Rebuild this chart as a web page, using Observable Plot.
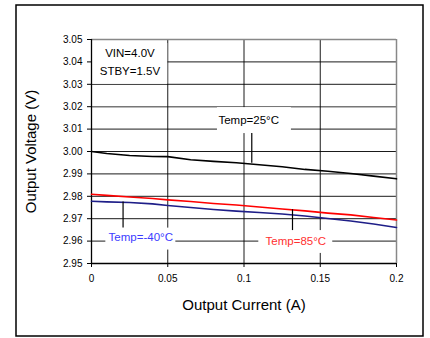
<!DOCTYPE html>
<html>
<head>
<meta charset="utf-8">
<script src="https://cdn.jsdelivr.net/npm/d3@7"></script>
<script src="https://cdn.jsdelivr.net/npm/@observablehq/plot@0.6"></script>
<style>
  body { margin: 0; background: #fff; }
  svg { display: block; }
</style>
</head>
<body>
<div id="chart"></div>
<script>
// Output current (A)
const current = [0, 0.01, 0.025, 0.04, 0.05, 0.065, 0.08, 0.095, 0.11, 0.125, 0.14, 0.155, 0.17, 0.185, 0.2];
// Output voltage (V) per temperature
const temp25 = [3.0000, 2.9991, 2.9982, 2.9978, 2.9977, 2.9963, 2.9956, 2.9950, 2.9941, 2.9932, 2.9920, 2.9912, 2.9902, 2.9890, 2.9878];
const temp85 = [2.9809, 2.9804, 2.9797, 2.9790, 2.9784, 2.9777, 2.9768, 2.9761, 2.9752, 2.9743, 2.9735, 2.9725, 2.9717, 2.9705, 2.9694];
const tempM40 = [2.9778, 2.9775, 2.9772, 2.9766, 2.9759, 2.9750, 2.9741, 2.9734, 2.9728, 2.9721, 2.9712, 2.9701, 2.9690, 2.9676, 2.9661];

const yTicks = [2.95, 2.96, 2.97, 2.98, 2.99, 3.00, 3.01, 3.02, 3.03, 3.04, 3.05];
const yTickLabels = ["2.95", "2.96", "2.97", "2.98", "2.99", "3.00", "3.01", "3.02", "3.03", "3.04", "3.05"];
const xTicks = [0, 0.05, 0.1, 0.15, 0.2];
const xTickLabels = ["0", "0.05", "0.1", "0.15", "0.2"];

const xTitle = "Output Current (A)";
const yTitle = "Output Voltage (V)";
const conditionLines = ["VIN=4.0V", "STBY=1.5V"];

// annotation labels (centre in data units), box extents, leader line
const labels = [
  {text: "Temp=25°C", x: 0.1031, y: 3.0138, color: "#000000", bx1: 0.0826, bx2: 0.1311, by1: 3.0080, by2: 3.0196, lx: 0.1051, ly1: 3.0080, ly2: 2.9947},
  {text: "Temp=-40°C", x: 0.0323, y: 2.9615, color: "#3b3bff", bx1: 0.0094, bx2: 0.0553, by1: 2.9560, by2: 2.9658, lx: 0.0207, ly1: 2.9658, ly2: 2.9774},
  {text: "Temp=85°C", x: 0.1340, y: 2.9600, color: "#ff3030", bx1: 0.1097, bx2: 0.1582, by1: 2.9545, by2: 2.9647, lx: 0.1318, ly1: 2.9647, ly2: 2.9740}
];
const condBox = {bx1: 0, bx2: 0.05, by1: 3.0300, by2: 3.0482, x: 0.0252, y1: 3.0439, y2: 3.0359};

const series = [
  {name: "25", values: temp25, color: "#000000"},
  {name: "85", values: temp85, color: "#ff0000"},
  {name: "-40", values: tempM40, color: "#1e1e88"}
];
const rows = series.flatMap(s => current.map((c, i) => ({series: s.name, x: c, y: s.values[i], color: s.color})));

const font = "'Liberation Sans', Arial, sans-serif";

const chart = Plot.plot({
  width: 430,
  height: 338,
  marginLeft: 91,
  marginRight: 34,
  marginTop: 39,
  marginBottom: 75,
  style: {fontFamily: font, background: "#fff"},
  x: {domain: [0, 0.2]},
  y: {domain: [2.95, 3.05]},
  marks: [
    // grid
    Plot.ruleY(yTicks.filter(v => v !== 3.02 && v !== 3.05 && v !== 2.95), {y: d => d, stroke: "#000", strokeWidth: 0.9}),
    Plot.ruleY([3.02], {stroke: "#777", strokeWidth: 1.6}),
    Plot.ruleX(xTicks.filter(v => v !== 0 && v !== 0.2), {x: d => d, stroke: "#000", strokeWidth: 0.9}),
    // frame
    Plot.ruleY([3.05], {stroke: "#888", strokeWidth: 1.5}),
    Plot.ruleX([0.2], {stroke: "#888", strokeWidth: 1.5}),
    // white label boxes
    Plot.rect([condBox, ...labels], {x1: "bx1", x2: "bx2", y1: "by1", y2: "by2", fill: "#fff"}),
    // axes
    Plot.axisY({ticks: yTicks, tickFormat: (d, i) => yTickLabels[i], tickSize: 4, tickPadding: 5, fontSize: 10, fill: "#000", label: null}),
    Plot.axisX({ticks: xTicks, tickFormat: (d, i) => xTickLabels[i], tickSize: 4, tickPadding: 7, fontSize: 10, fill: "#000", label: null}),
    Plot.ruleX([0], {stroke: "#000", strokeWidth: 1.3}),
    Plot.ruleY([2.95], {stroke: "#000", strokeWidth: 1.3}),
    // data
    Plot.line(rows, {x: "x", y: "y", z: "series", stroke: "color", strokeWidth: 1.6}),
    // leader lines
    Plot.ruleX(labels, {x: "lx", y1: "ly1", y2: "ly2", stroke: "#000", strokeWidth: 1.2}),
    // label texts
    Plot.text(labels, {x: "x", y: "y", text: "text", fill: "color", fontSize: 11.5}),
    Plot.text([conditionLines[0]], {x: condBox.x, y: condBox.y1, text: d => d, fontSize: 11.5, fill: "#000"}),
    Plot.text([conditionLines[1]], {x: condBox.x, y: condBox.y2, text: d => d, fontSize: 11.5, fill: "#000"}),
    // axis titles
    Plot.text([xTitle], {frameAnchor: "bottom", dy: 42, lineAnchor: "middle", textAnchor: "middle", text: d => d, fontSize: 15, fill: "#000"}),
    Plot.text([yTitle], {frameAnchor: "left", dx: -60, rotate: -90, textAnchor: "middle", lineAnchor: "middle", text: d => d, fontSize: 15, fill: "#000"})
  ]
});

// outer border of the figure
d3.select(chart).insert("rect", ":first-child")
  .attr("x", 16).attr("y", 5).attr("width", 407).attr("height", 331)
  .attr("fill", "none").attr("stroke", "#000").attr("stroke-width", 1.5);

document.getElementById("chart").appendChild(chart);
</script>
</body>
</html>
